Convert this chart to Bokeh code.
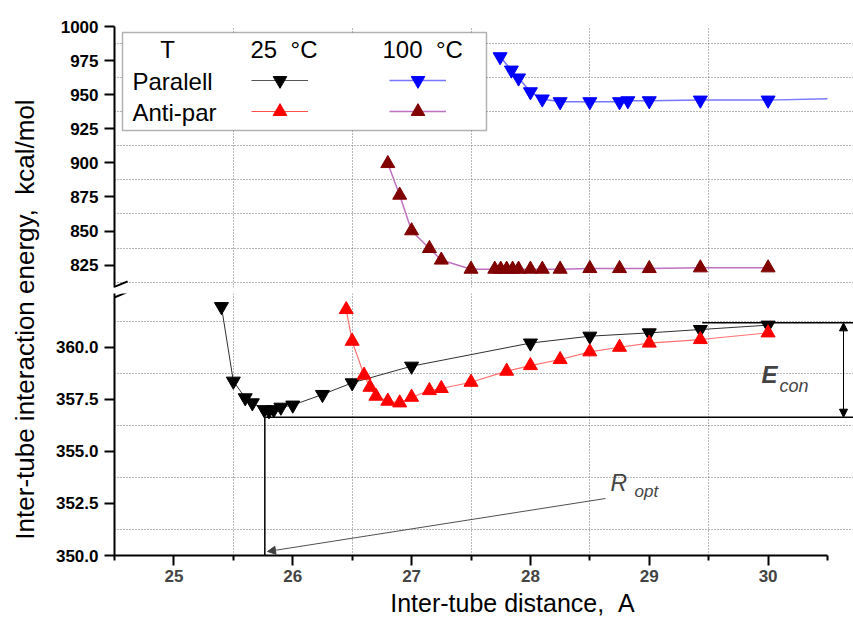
from math import pi
from bokeh.plotting import figure
from bokeh.layouts import row, column
from bokeh.models import (Range1d, FixedTicker, PrintfTickFormatter, Label, Arrow,
                          NormalHead, TeeHead, BoxAnnotation, Legend, LegendItem)
from bokeh.embed import file_html
from bokeh.resources import INLINE

# ---------------- data ----------------
par25_x = [25.40, 25.50, 25.60, 25.66, 25.76, 25.80, 25.84, 25.90, 26.00, 26.25,
           26.50, 27.00, 28.00, 28.50, 29.00, 29.43, 30.00]
par25_y = [361.95, 358.37, 357.57, 357.33, 357.00, 356.95, 357.00, 357.12, 357.22, 357.73,
           358.29, 359.09, 360.20, 360.53, 360.69, 360.85, 361.06]

anti25_x = [26.45, 26.50, 26.60, 26.65, 26.70, 26.80, 26.90, 27.00, 27.15, 27.25,
            27.50, 27.80, 28.00, 28.25, 28.50, 28.75, 29.00, 29.43, 30.00]
anti25_y = [361.81, 360.29, 358.66, 358.08, 357.65, 357.41, 357.33, 357.60, 357.92, 358.02,
            358.32, 358.85, 359.12, 359.41, 359.78, 360.00, 360.20, 360.37, 360.69]

par100_x = [27.745, 27.84, 27.90, 28.00, 28.10, 28.25, 28.50, 28.75, 28.82, 29.00,
            29.43, 30.00, 30.50]
par100_y = [977.8, 968.0, 962.2, 952.1, 946.8, 944.8, 944.8, 944.8, 945.5, 945.5,
            946.0, 946.0, 947.0]
par100_marked = 12   # the last value only continues the line to the axis end

anti100_x = [26.80, 26.90, 27.00, 27.15, 27.25, 27.50, 27.70, 27.75, 27.80, 27.85,
             27.90, 28.00, 28.10, 28.25, 28.50, 28.75, 29.00, 29.43, 30.00]
anti100_y = [899.5, 876.3, 850.2, 837.2, 828.7, 822.0, 822.0, 822.0, 822.0, 822.0,
             822.0, 822.0, 822.0, 822.0, 822.5, 822.5, 822.5, 823.0, 823.0]

x_ticks = [25, 26, 27, 28, 29, 30]
x_minor = [24.5, 25.5, 26.5, 27.5, 28.5, 29.5, 30.5]
up_ticks = [825, 850, 875, 900, 925, 950, 975, 1000]
up_grid = [812.5, 837.5, 862.5, 887.5, 912.5, 937.5, 962.5, 987.5]
lo_ticks = [350.0, 352.5, 355.0, 357.5, 360.0]
lo_grid = [351.25, 353.75, 356.25, 358.75, 361.25]

e_con_top = 361.17      # upper level of E_con bracket
e_con_bottom = 356.64   # minimum level
r_opt = 25.765          # optimal distance

NB = "\u00a0"
# ---------------- geometry ----------------
FONT = "Liberation Sans"
X0, X1 = 24.5, 30.5
UP_RANGE = (808.57, 1000.0)
LO_RANGE = (350.0, 362.58)
FL, FR = 114, 827          # frame left / axis end (page px)
UT, UB = 26, 287           # upper frame top/bottom
LT, LB = 293, 555          # lower frame top/bottom
PXU = (FR - FL) / (X1 - X0)
XR = X1 + (853 - FR) / PXU   # frames run to the page edge; axis stops at X1


def ux(px):
    return X0 + (px - FL) / PXU


def uy(py):
    return UP_RANGE[1] - (py - UT) * (UP_RANGE[1] - UP_RANGE[0]) / (UB - UT)


def ly(py):
    return LO_RANGE[1] - (py - LT) * (LO_RANGE[1] - LO_RANGE[0]) / (LB - LT)


common = dict(output_backend="svg", toolbar_location=None, background_fill_color="white",
              border_fill_color="white", outline_line_color=None)

xr = Range1d(X0, XR)
up = figure(width=805, height=290, x_range=xr, y_range=Range1d(*UP_RANGE),
            x_axis_location=None, min_border_left=66, min_border_right=0,
            min_border_top=26, min_border_bottom=3, **common)
lo = figure(width=805, height=299, x_range=xr, y_range=Range1d(*LO_RANGE),
            min_border_left=66, min_border_right=0, min_border_top=3,
            min_border_bottom=34, **common)
xt = figure(width=805, height=28, x_range=xr, y_range=Range1d(0, 28),
            x_axis_location=None, y_axis_location=None, min_border_left=66,
            min_border_right=0, min_border_top=0, min_border_bottom=0, **common)
xt.grid.visible = False

for p in (up, lo):
    p.xgrid.ticker = FixedTicker(ticks=x_minor[1:-1])
    p.ygrid.bounds = (X0, X1)
    p.grid.grid_line_color = "#707070"
    p.grid.grid_line_dash = "1 2"
    p.grid.grid_line_width = 1
    ax = p.yaxis
    ax.axis_line_width = 2
    ax.major_tick_line_width = 2
    ax.major_tick_out = 10
    ax.major_tick_in = 0
    ax.minor_tick_out = 0
    ax.minor_tick_in = 0
    ax.major_label_text_font = FONT
    ax.major_label_text_font_style = "bold"
    ax.major_label_text_font_size = "17px"
    ax.major_label_text_color = "black"
    ax.major_label_standoff = 6

up.yaxis.ticker = FixedTicker(ticks=up_ticks, minor_ticks=[])
up.ygrid.ticker = FixedTicker(ticks=up_grid)
lo.yaxis.ticker = FixedTicker(ticks=lo_ticks, minor_ticks=[])
lo.yaxis.formatter = PrintfTickFormatter(format="%.1f")
lo.ygrid.ticker = FixedTicker(ticks=lo_grid)

xa = lo.xaxis
xa.bounds = (X0, X1)
xa.ticker = FixedTicker(ticks=x_ticks, minor_ticks=x_minor)
xa.axis_line_width = 2
xa.major_tick_line_width = 2
xa.minor_tick_line_width = 2
xa.major_tick_out = 10
xa.major_tick_in = 0
xa.minor_tick_out = 5
xa.minor_tick_in = 0
xa.major_label_text_font = FONT
xa.major_label_text_font_style = "bold"
xa.major_label_text_font_size = "17px"
xa.major_label_standoff = 4

# x-axis title (own strip so it can sit off-centre like the reference)
xt.add_layout(Label(x=ux(512), y=15, text="Inter-tube distance," + NB + NB + "A",
                    text_font=FONT, text_font_size="25px", text_align="center",
                    text_baseline="middle", text_color="black"))

TRI = 14
NAN = float("nan")
# ---------------- series ----------------
lo.line(par25_x, par25_y, line_color="#303030", line_width=1)
lo.scatter(par25_x, par25_y, marker="inverted_triangle", size=TRI, color="black")
lo.line(anti25_x, anti25_y, line_color="#ff7070", line_width=1.2)
lo.scatter(anti25_x, anti25_y, marker="triangle", size=TRI, color="red")

bl_line = up.line(par100_x, par100_y, line_color="#7777ff", line_width=1.5)
bl_sc = up.scatter(par100_x[:par100_marked], par100_y[:par100_marked],
                   marker="inverted_triangle", size=TRI, color="blue")
br_line = up.line(anti100_x, anti100_y, line_color="#c070c0", line_width=1.5)
br_sc = up.scatter(anti100_x, anti100_y, marker="triangle", size=TRI, color="#800000")

# legend proxies for the 25 C series (their data live in the lower panel)
k_line = up.line([NAN], [NAN], line_color="#555555", line_width=1.2)
k_sc = up.scatter([NAN], [NAN], marker="inverted_triangle", size=TRI, color="black")
r_line = up.line([NAN], [NAN], line_color="#ff5050", line_width=1.2)
r_sc = up.scatter([NAN], [NAN], marker="triangle", size=TRI, color="red")

# ---------------- legend box ----------------
up.add_layout(BoxAnnotation(left=ux(122), right=ux(486), top=uy(32), bottom=uy(130),
                            fill_color="white", fill_alpha=1.0,
                            line_color="black", line_width=1.5))


def legtext(text, px, py, align="left"):
    up.add_layout(Label(x=ux(px), y=uy(py), text=text, text_font=FONT,
                        text_font_size="24px", text_align=align,
                        text_baseline="middle", text_color="black"))


legtext("T", 167, 49, "center")
legtext("25" + NB + NB + "\u00b0C", 250, 49)
legtext("100" + NB + NB + "\u00b0C", 382, 49)
legtext("Paralell", 132, 81)
legtext("Anti-par", 132, 112)


def leg(rs, cx, cy):
    gw, gh = 57, 34
    lg = Legend(items=[LegendItem(label=" ", renderers=rs, index=0)],
                location=(cx - gw / 2 - FL, UB - (cy + gh / 2)),
                glyph_width=gw, glyph_height=gh, label_standoff=0, label_width=0,
                label_height=0, label_text_font_size="1px", padding=0, margin=0,
                spacing=0, border_line_color=None, background_fill_alpha=0)
    up.add_layout(lg)


leg([k_line, k_sc], 279, 80)
leg([r_line, r_sc], 279, 111)
leg([bl_line, bl_sc], 417, 80)
leg([br_line, br_sc], 417, 111)


# ---------------- axis break marks (tee heads straddling the axis) ----------------
def brk(p, fy, cx, cy):
    p.add_layout(Arrow(x_start=ux(cx - 4.5), y_start=fy(cy - 10.9), x_end=ux(cx), y_end=fy(cy),
                       start=None, end=TeeHead(size=24, line_width=2, line_color="black"),
                       line_alpha=0))


brk(up, uy, 116, 285.5)
brk(lo, ly, 115, 296.5)

# ---------------- E_con / R_opt annotations ----------------
lo.add_layout(Arrow(x_start=ux(701.7), y_start=e_con_top, x_end=XR, y_end=e_con_top,
                    end=None, line_color="black", line_width=1.5))
lo.add_layout(Arrow(x_start=r_opt, y_start=e_con_bottom, x_end=XR, y_end=e_con_bottom,
                    end=None, line_color="black", line_width=1.5))
lo.add_layout(Arrow(x_start=r_opt, y_start=e_con_bottom, x_end=r_opt, y_end=LO_RANGE[0],
                    end=None, line_color="black", line_width=1.5))
lo.add_layout(Arrow(x_start=ux(843), y_start=e_con_top, x_end=ux(843), y_end=e_con_bottom,
                    start=NormalHead(size=8, fill_color="black", line_color="black"),
                    end=NormalHead(size=8, fill_color="black", line_color="black"),
                    line_color="black", line_width=1))
lo.add_layout(Arrow(x_start=ux(605), y_start=ly(498), x_end=ux(267), y_end=ly(551),
                    end=NormalHead(size=8, fill_color="#404040", line_color="#404040"),
                    line_color="#505050", line_width=1))

lo.add_layout(Label(x=ux(761), y=ly(374), text="E", text_font=FONT, text_font_size="24px",
                    text_font_style="bold italic", text_baseline="middle"))
lo.add_layout(Label(x=ux(779), y=ly(385), text="con", text_font=FONT, text_font_size="18px",
                    text_font_style="italic", text_baseline="middle"))
lo.add_layout(Label(x=ux(610), y=ly(482), text="R", text_font=FONT, text_font_size="23px",
                    text_font_style="italic", text_baseline="middle"))
lo.add_layout(Label(x=ux(634), y=ly(491), text="opt", text_font=FONT, text_font_size="17px",
                    text_font_style="italic", text_baseline="middle"))

# ---------------- y-axis title (spans both panels) ----------------
yt = figure(width=48, height=617, x_range=Range1d(0, 48), y_range=Range1d(0, 617),
            x_axis_location=None, y_axis_location=None, min_border_left=0,
            min_border_right=0, min_border_top=0, min_border_bottom=0, **common)
yt.grid.visible = False
yt.add_layout(Label(x=24, y=298,
                    text="Inter-tube" + NB + "interaction" + NB + "energy," + NB + NB + "kcal/mol",
                    angle=pi / 2, text_align="center", text_baseline="middle",
                    text_font=FONT, text_font_size="26px", text_color="black"))

layout = row(yt, column(up, lo, xt))
open("out.html", "w").write(file_html(layout, INLINE))
